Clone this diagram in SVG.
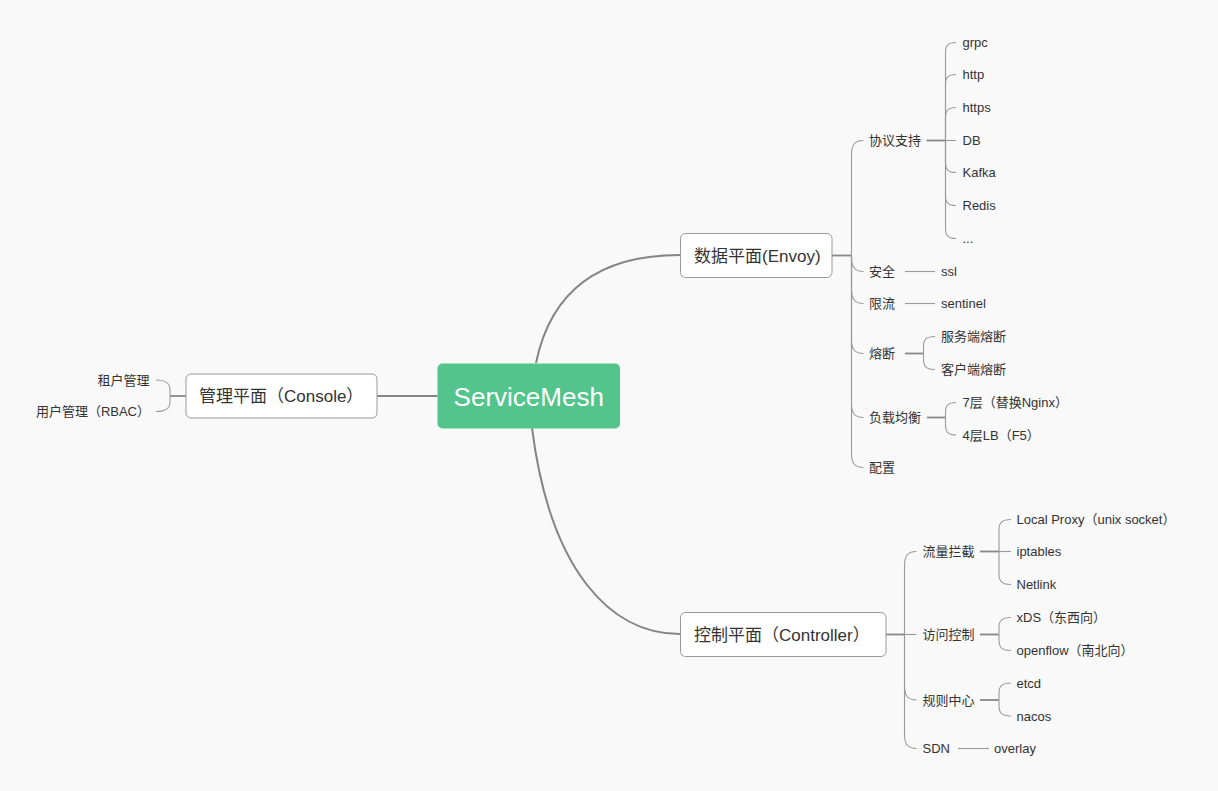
<svg xmlns="http://www.w3.org/2000/svg" width="1218" height="791" viewBox="0 0 1218 791">
<style>
.t{font-family:"Liberation Sans","Noto Sans CJK SC",sans-serif;fill:#333;font-size:13px}
.tm{font-family:"Liberation Sans","Noto Sans CJK SC",sans-serif;fill:#333;font-size:17px}
.tc{font-family:"Liberation Sans","Noto Sans CJK SC",sans-serif;fill:#fff;font-size:26px}
.box{fill:#fff;stroke:#999;stroke-width:1}
.main{fill:none;stroke:#858585;stroke-width:2}
.br{fill:none;stroke:#9a9a9a;stroke-width:1.1}
.stub{fill:none;stroke:#888;stroke-width:1.8}
</style>
<rect width="1218" height="791" fill="#f9f9f9"/>
<g id="connectors">
<path class="main" d="M536,363 C550,295 595,255 680,255"/>
<path class="main" d="M532,428 C550,570 610,634 680,634"/>
<path class="main" d="M437.5,396 H377"/>
<!-- console children -->
<path class="stub" d="M186,396 H170"/>
<path class="br" d="M170,396 V390 C170,383.5 166.5,380 156,380"/>
<path class="br" d="M170,396 V401.5 C170,408 166.5,411.5 156,411.5"/>
<!-- data plane -->
<path class="stub" d="M832,255.5 H851.5"/>
<path class="br" d="M851.5,255.5 V154.5 C851.5,144.5 855,140.5 863.5,140.5"/>
<path class="br" d="M851.5,255.5 V257.5 C851.5,267.5 855,271.5 863.5,271.5"/>
<path class="br" d="M851.5,255.5 V289.5 C851.5,299.5 855,303.5 863.5,303.5"/>
<path class="br" d="M851.5,255.5 V339.5 C851.5,349.5 855,353.5 863.5,353.5"/>
<path class="br" d="M851.5,255.5 V403.5 C851.5,413.5 855,417.5 863.5,417.5"/>
<path class="br" d="M851.5,255.5 V453.5 C851.5,463.5 855,467.5 863.5,467.5"/>
<!-- protocol -->
<path class="stub" d="M926.5,140.5 H945.5"/>
<path class="br" d="M945.5,140.5 V52.5 C945.5,45.5 948,42.5 956,42.5"/>
<path class="br" d="M945.5,140.5 V84.5 C945.5,77.5 948,74.5 956,74.5"/>
<path class="br" d="M945.5,140.5 V117.5 C945.5,110.5 948,107.5 956,107.5"/>
<path class="br" d="M945.5,140.5 H956"/>
<path class="br" d="M945.5,140.5 V162.5 C945.5,169.5 948,172.5 956,172.5"/>
<path class="br" d="M945.5,140.5 V195.5 C945.5,202.5 948,205.5 956,205.5"/>
<path class="br" d="M945.5,140.5 V228.5 C945.5,235.5 948,238.5 956,238.5"/>
<path class="br" d="M905,271.5 H935"/>
<path class="br" d="M905,303.5 H935"/>
<!-- fuse -->
<path class="stub" d="M905,353.5 H923.5"/>
<path class="br" d="M923.5,353.5 V346.5 C923.5,339.5 926,336.5 935,336.5"/>
<path class="br" d="M923.5,353.5 V359.5 C923.5,366.5 926,369.5 935,369.5"/>
<!-- lb -->
<path class="stub" d="M927,417.5 H945.5"/>
<path class="br" d="M945.5,417.5 V412.5 C945.5,405.5 948,402.5 956,402.5"/>
<path class="br" d="M945.5,417.5 V425 C945.5,432 948,435 956,435"/>
<!-- control plane -->
<path class="stub" d="M886,634.5 H904.5"/>
<path class="br" d="M904.5,634.5 V565.5 C904.5,555.5 908,551.5 916.5,551.5"/>
<path class="br" d="M904.5,634.5 H916.5"/>
<path class="br" d="M904.5,634.5 V686 C904.5,696 908,700 916.5,700"/>
<path class="br" d="M904.5,634.5 V734.5 C904.5,744.5 908,748.5 916.5,748.5"/>
<path class="stub" d="M980,551.5 H999"/>
<path class="br" d="M999,551.5 V529.5 C999,522.5 1002,519.5 1011,519.5"/>
<path class="br" d="M999,551.5 H1011"/>
<path class="br" d="M999,551.5 V574.5 C999,581.5 1002,584.5 1011,584.5"/>
<path class="stub" d="M980,634.5 H999"/>
<path class="br" d="M999,634.5 V627.5 C999,620.5 1002,617.5 1011,617.5"/>
<path class="br" d="M999,634.5 V640.5 C999,647.5 1002,650.5 1011,650.5"/>
<path class="stub" d="M980,700 H999"/>
<path class="br" d="M999,700 V693 C999,686 1002,683 1011,683"/>
<path class="br" d="M999,700 V706 C999,713 1002,716 1011,716"/>
<path class="br" d="M958,748.5 H989"/>
</g>
<g id="root"><rect x="437.5" y="363.5" width="182.5" height="65" rx="5" fill="#52c48c"/><text class="tc" x="528.75" y="406" text-anchor="middle">ServiceMesh</text></g>
<g id="data-plane"><rect class="box" x="680.5" y="233.5" width="151.5" height="44" rx="5"/><text class="tm" x="694" y="261.5">数据平面(Envoy)</text></g>
<g id="control-plane"><rect class="box" x="680.5" y="612.5" width="205.5" height="44" rx="5"/><text class="tm" x="694" y="640.5">控制平面（Controller）</text></g>
<g id="console"><rect class="box" x="186" y="374" width="191" height="44" rx="5"/><text class="tm" x="199" y="402">管理平面（Console）</text></g>
<g id="console-children">
<text class="t" x="149.5" y="384.5" text-anchor="end">租户管理</text>
<text class="t" x="150" y="416" text-anchor="end">用户管理（RBAC）</text>
</g>
<g id="data-children">
<text class="t" x="869" y="145">协议支持</text>
<text class="t" x="869" y="276">安全</text>
<text class="t" x="869" y="308">限流</text>
<text class="t" x="869" y="358">熔断</text>
<text class="t" x="869" y="422">负载均衡</text>
<text class="t" x="869" y="472">配置</text>
</g>
<g id="protocol-children">
<text class="t" x="962.5" y="47">grpc</text>
<text class="t" x="962.5" y="79">http</text>
<text class="t" x="962.5" y="112">https</text>
<text class="t" x="962.5" y="145">DB</text>
<text class="t" x="962.5" y="177">Kafka</text>
<text class="t" x="962.5" y="210">Redis</text>
<text class="t" x="962.5" y="243">...</text>
</g>
<g id="data-grandchildren">
<text class="t" x="941" y="276">ssl</text>
<text class="t" x="941" y="308">sentinel</text>
<text class="t" x="941" y="341">服务端熔断</text>
<text class="t" x="941" y="374">客户端熔断</text>
<text class="t" x="962.5" y="407">7层（替换Nginx）</text>
<text class="t" x="962.5" y="439.5">4层LB（F5）</text>
</g>
<g id="control-children">
<text class="t" x="922.5" y="556">流量拦截</text>
<text class="t" x="922.5" y="639">访问控制</text>
<text class="t" x="922.5" y="704.5">规则中心</text>
<text class="t" x="922.5" y="753">SDN</text>
</g>
<g id="control-grandchildren">
<text class="t" x="1016.5" y="524">Local Proxy（unix socket）</text>
<text class="t" x="1016.5" y="556">iptables</text>
<text class="t" x="1016.5" y="589">Netlink</text>
<text class="t" x="1016.5" y="622">xDS（东西向）</text>
<text class="t" x="1016.5" y="655">openflow（南北向）</text>
<text class="t" x="1016.5" y="687.5">etcd</text>
<text class="t" x="1016.5" y="720.5">nacos</text>
<text class="t" x="994" y="753">overlay</text>
</g>
</svg>
